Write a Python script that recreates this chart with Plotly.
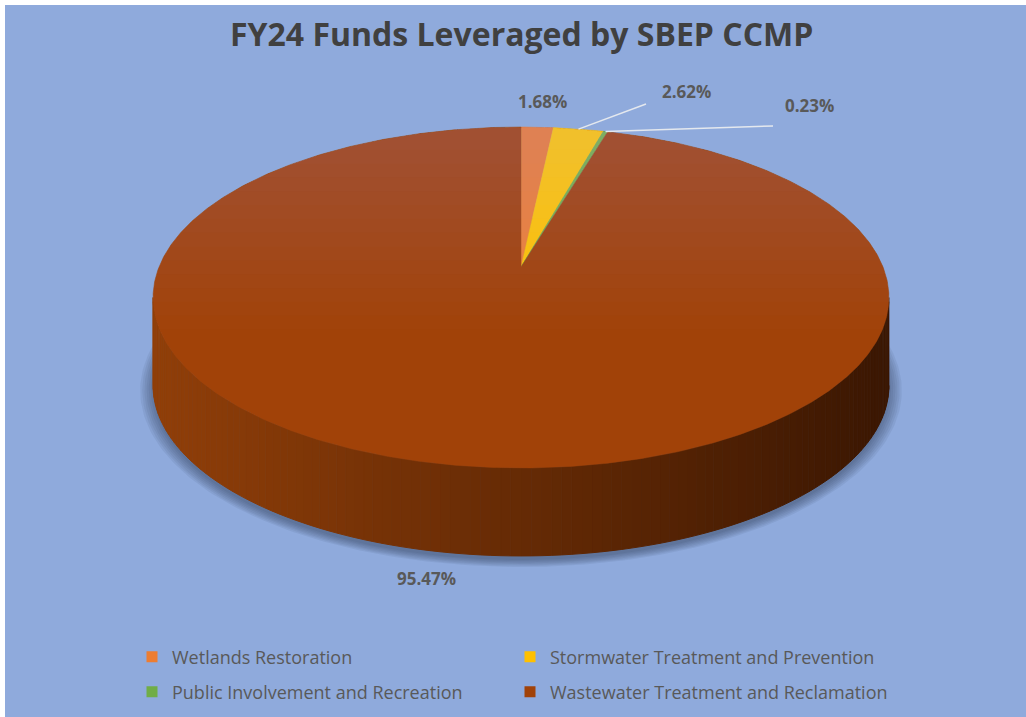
import numpy as np
import plotly.graph_objects as go

# ---------------- data ----------------
categories = ["Wetlands Restoration", "Stormwater Treatment and Prevention",
              "Public Involvement and Recreation", "Wastewater Treatment and Reclamation"]
values = [1.68, 2.62, 0.23, 95.47]
value_labels = ["1.68%", "2.62%", "0.23%", "95.47%"]
title_text = "FY24 Funds Leveraged by SBEP CCMP"

# ---------------- styles / geometry ----------------
colors = ["#ED7D31", "#FFC000", "#70AD47", "#A14208"]
BG = "#8FAADC"
W, HGT = 1026, 717
CX, CY = 521.0, 267.0      # projected pie centre (pixels)
A, B, K = 165.0, 362.0, 0.1789   # vertical radius, horizontal radius, perspective
DEPTH = 88.0
SIDE_LEFT = np.array([145, 63, 9])
SIDE_RIGHT = np.array([59, 23, 2])
label_pos = [(542, 101), (686, 91), (809, 105), (426, 578)]
leader = [False, True, True, False]
leader_end = [None, (646, 104), (773, 126), None]


def proj(theta_deg, depth=0.0, scale=1.0):
    t = np.radians(theta_deg)
    u, v = np.sin(t), np.cos(t)
    den = 1 + K * v
    x = CX + B * scale * u / den
    y = CY - A * scale * v / den + depth
    return x, y


fig = go.Figure()

# shadow under the pie
for i, e in enumerate(np.linspace(0.035, 0.0, 7)):
    th = np.linspace(0, 360, 361)
    x, y = proj(th, depth=DEPTH + 4, scale=1 + e)
    fig.add_trace(go.Scatter(x=x, y=y, mode="lines", fill="toself",
                             fillcolor="rgba(35,45,80,0.08)", line=dict(width=0),
                             hoverinfo="skip", showlegend=False))

# side of pie (front arc), shaded by x position
cum = np.cumsum([0] + values)
t0 = np.degrees(np.arccos(-K))
t1 = 360 - t0
edges = np.linspace(t0, t1, 121)
xmin, xmax = CX - B / np.sqrt(1 - K * K), CX + B / np.sqrt(1 - K * K)
for a0, a1 in zip(edges[:-1], edges[1:]):
    th = np.linspace(a0, a1, 4)
    xt, yt = proj(th)
    xb, yb = proj(th[::-1], depth=DEPTH)
    xm = np.mean(xt)
    f = np.clip((xm - xmin) / (xmax - xmin), 0, 1)
    c = (SIDE_LEFT * (1 - f) + SIDE_RIGHT * f).astype(int)
    col = f"rgb({c[0]},{c[1]},{c[2]})"
    fig.add_trace(go.Scatter(x=np.r_[xt, xb], y=np.r_[yt, yb], mode="lines",
                             fill="toself", fillcolor=col, line=dict(width=1, color=col),
                             hoverinfo="skip", showlegend=False))

# top face slices
for i, (cat, val) in enumerate(zip(categories, values)):
    a0, a1 = cum[i] * 3.6, cum[i + 1] * 3.6
    th = np.linspace(a0, a1, max(3, int((a1 - a0) * 2)))
    x, y = proj(th)
    fig.add_trace(go.Scatter(x=np.r_[CX, x, CX], y=np.r_[CY, y, CY], mode="lines",
                             fill="toself", fillcolor=colors[i],
                             line=dict(width=0.5, color=colors[i]),
                             name=cat, hoverinfo="text", text=f"{cat}: {value_labels[i]}",
                             showlegend=False))

# light gradient on the far part of the top face
thf = np.linspace(-180, 180, 1441)
xf, yf = proj(thf)
for thr in np.linspace(150, 330, 14):
    m = yf < thr
    fig.add_trace(go.Scatter(x=xf[m], y=yf[m], mode="lines", fill="toself",
                             fillcolor="rgba(200,220,255,0.014)", line=dict(width=0),
                             hoverinfo="skip", showlegend=False))

# leader lines
for i in range(len(values)):
    if leader[i]:
        mid = (cum[i] + values[i] / 2) * 3.6
        x0, y0 = proj(mid)
        x1, y1 = leader_end[i]
        fig.add_trace(go.Scatter(x=[x0, x1], y=[y0, y1], mode="lines",
                                 line=dict(color="#E4E8EE", width=1.5),
                                 hoverinfo="skip", showlegend=False))

# data labels
for i, t in enumerate(value_labels):
    fig.add_annotation(x=label_pos[i][0], y=label_pos[i][1], text=f"<b>{t}</b>",
                       showarrow=False, xref="x", yref="y",
                       font=dict(family="Open Sans", size=17, color="#595959"))

# legend entries
for i, cat in enumerate(categories):
    fig.add_trace(go.Scatter(x=[None], y=[None], mode="markers", name=cat,
                             marker=dict(symbol="square", size=11, color=colors[i]),
                             legend="legend" if i < 2 else "legend2"))

fig.add_annotation(x=521, y=33, xref="x", yref="y", showarrow=False,
                   text=f"<b>{title_text}</b>",
                   font=dict(family="Open Sans", size=32, color="#404040"))


def px_to_paper_x(px):
    return (px - 5) / (W - 5)


def px_to_paper_y(py):
    return 1 - (py - 5) / (HGT - 5)


legend_common = dict(orientation="h", xanchor="left", yanchor="middle",
                     entrywidth=333, entrywidthmode="pixels",
                     bgcolor="rgba(0,0,0,0)", itemwidth=30,
                     font=dict(family="Open Sans", size=18, color="#595959"))

fig.update_layout(
    width=W, height=HGT, autosize=False,
    margin=dict(l=5, r=0, t=5, b=0, pad=0),
    paper_bgcolor="white", plot_bgcolor=BG,
    xaxis=dict(range=[5, W], visible=False, fixedrange=True),
    yaxis=dict(range=[HGT, 5], visible=False, fixedrange=True),
    legend=dict(x=px_to_paper_x(132), y=px_to_paper_y(657), **legend_common),
    legend2=dict(x=px_to_paper_x(132), y=px_to_paper_y(692), **legend_common),
    showlegend=True,
)

fig.write_html("out.html", config={"displayModeBar": False},
               post_script="document.body.style.margin='0';document.body.style.overflow='hidden';")
